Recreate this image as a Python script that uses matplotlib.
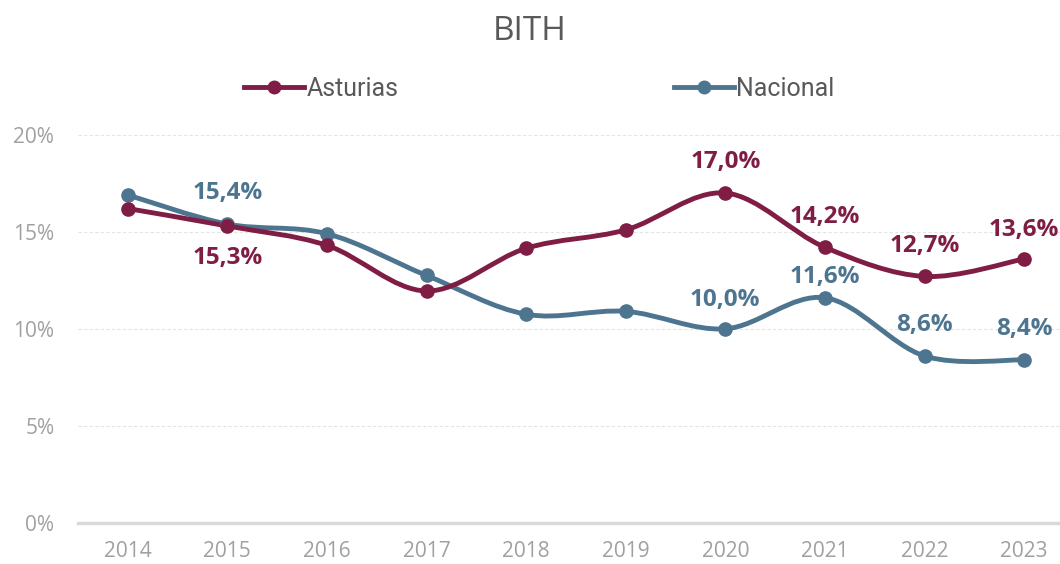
import matplotlib
matplotlib.use("Agg")
import matplotlib.pyplot as plt
from matplotlib.path import Path
from matplotlib.patches import PathPatch
from matplotlib.lines import Line2D

years = ["2014", "2015", "2016", "2017", "2018", "2019", "2020", "2021", "2022", "2023"]
asturias = [16.2, 15.3, 14.3, 11.95, 14.15, 15.1, 17.0, 14.2, 12.7, 13.6]
nacional = [16.9, 15.4, 14.9, 12.75, 10.75, 10.9, 10.0, 11.6, 8.6, 8.4]

# which points carry a value label (index, offset in points)
lab_ast = {1: -23, 6: 22, 7: 22, 8: 22, 9: 21}
lab_nac = {1: 22, 6: 21, 7: 15, 8: 22, 9: 22}

C_AST = "#7F1D45"
C_NAC = "#4E7590"

plt.rcParams['font.family'] = ['Open Sans', 'DejaVu Sans']


def smooth_path(xs, ys):
    # Excel-like smoothed line: cubic Bezier through every point
    verts = [(xs[0], ys[0])]
    codes = [Path.MOVETO]
    n = len(xs)
    for i in range(n - 1):
        x0, y0 = (xs[i - 1], ys[i - 1]) if i > 0 else (xs[i], ys[i])
        x1, y1 = xs[i], ys[i]
        x2, y2 = xs[i + 1], ys[i + 1]
        x3, y3 = (xs[i + 2], ys[i + 2]) if i + 2 < n else (x2, y2)
        c1 = (x1 + (x2 - x0) / 6, y1 + (y2 - y0) / 6)
        c2 = (x2 - (x3 - x1) / 6, y2 - (y3 - y1) / 6)
        verts += [c1, c2, (x2, y2)]
        codes += [Path.CURVE4] * 3
    return Path(verts, codes)


def fmt(v):
    return f"{v:.1f}".replace(".", ",") + "%"


fig = plt.figure(figsize=(10.6, 5.64), dpi=100)
ax = fig.add_axes([0.0735, 0.073, 0.9265, 0.688])
x = list(range(len(years)))

for vals, col, labs in [(nacional, C_NAC, lab_nac), (asturias, C_AST, lab_ast)]:
    ax.add_patch(PathPatch(smooth_path(x, vals), facecolor="none", edgecolor=col,
                           lw=3.5, capstyle="round", zorder=3))
    ax.plot(x, vals, "o", color=col, ms=9.5, zorder=4)
    for i, off in labs.items():
        ax.annotate(fmt(vals[i]), (x[i], vals[i]), xytext=(0, off), textcoords="offset points",
                    ha="center", va="center", color=col, fontsize=17.5, fontweight="bold",
                    annotation_clip=False)

ax.set_xlim(-0.5, 9.36)
ax.set_ylim(0, 20)
ax.set_xticks(x)
ax.set_xticklabels(years)
ax.set_yticks([0, 5, 10, 15, 20])
ax.set_yticklabels(["0%", "5%", "10%", "15%", "20%"])
ax.tick_params(length=0, labelsize=15, labelcolor="#A0A0A0")
ax.tick_params(axis="x", pad=13)
ax.tick_params(axis="y", pad=17)
ax.grid(axis="y", color="#E4E4E4", lw=0.8, ls=(0, (3, 2)))
ax.set_axisbelow(True)
for s in ["top", "right", "left"]:
    ax.spines[s].set_visible(False)
ax.spines["bottom"].set_color("#D9D9D9")
ax.spines["bottom"].set_linewidth(2.5)

fig.text(0.5, 0.945, "BITH", ha="center", va="center", fontsize=24, color="#595959")

handles = [Line2D([], [], color=C_AST, lw=3.5, marker="o", ms=9),
           Line2D([], [], color=C_NAC, lw=3.5, marker="o", ms=9)]
fig.legend(handles, ["Asturias", "Nacional"], loc="center", bbox_to_anchor=(0.509, 0.842),
           ncol=2, frameon=False, handlelength=2.4, handletextpad=0.1,
           columnspacing=11.0, labelcolor="#595959",
           prop={"family": ["Roboto", "DejaVu Sans"], "size": 18})

fig.savefig("out.png", dpi=100)
